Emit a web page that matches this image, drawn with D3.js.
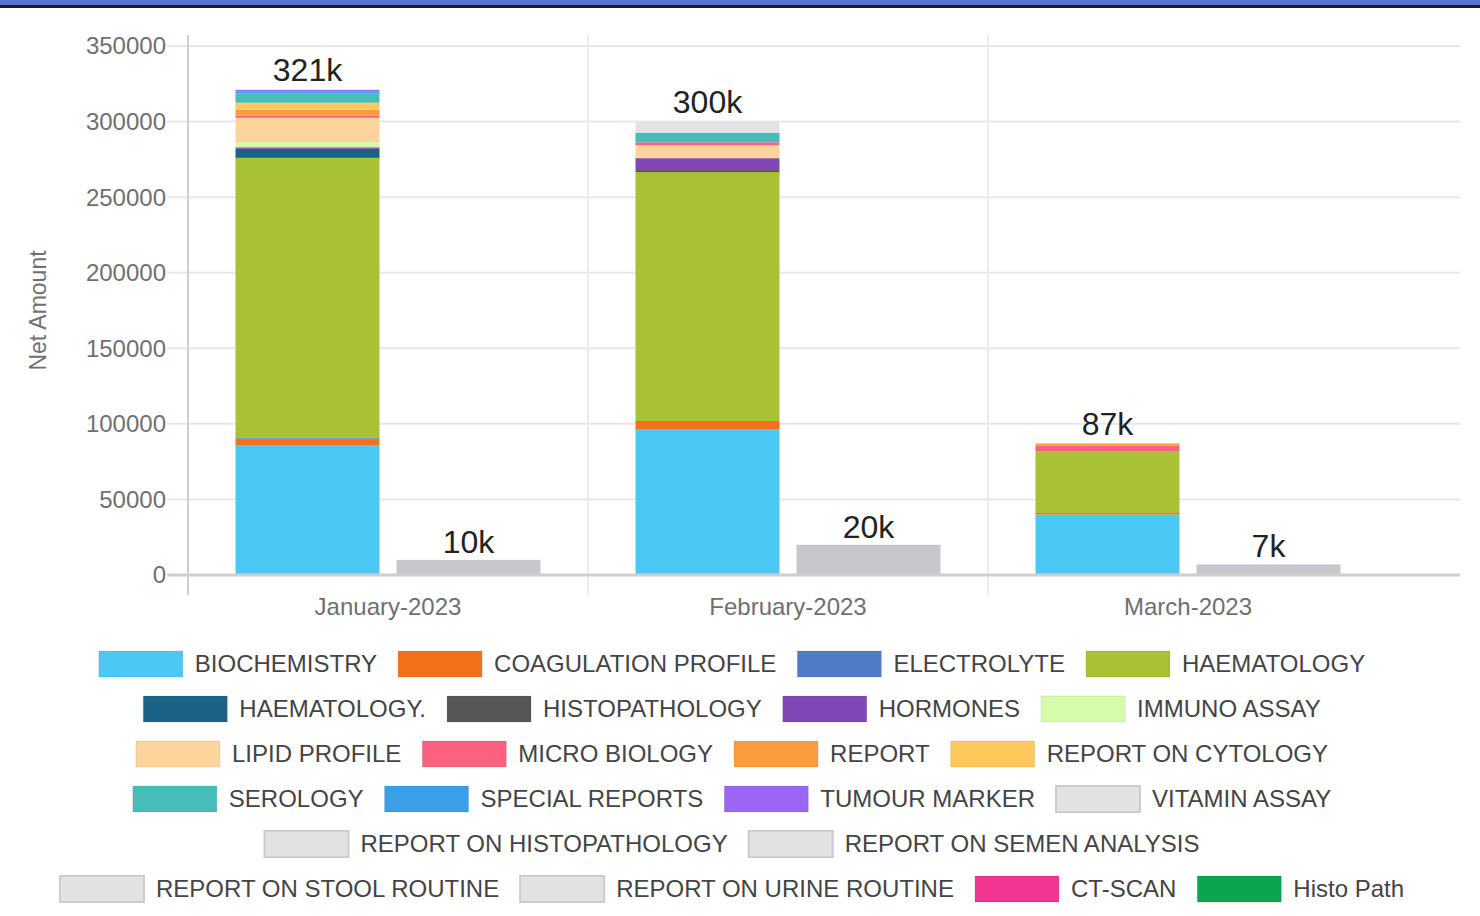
<!DOCTYPE html>
<html>
<head>
<meta charset="utf-8">
<script src="https://cdn.jsdelivr.net/npm/d3@7"></script>
<style>
  html, body { margin: 0; padding: 0; background: #fff; }
  svg { display: block; font-family: 'Liberation Sans', Arial, sans-serif; }
</style>
</head>
<body>
<svg id="chart" width="1480" height="916"></svg>
<script>
// months on the x axis
const months = ['January-2023', 'February-2023', 'March-2023'];

// departments (legend order = stack order, bottom to top)
const departments = [
  'BIOCHEMISTRY', 'COAGULATION PROFILE', 'ELECTROLYTE', 'HAEMATOLOGY',
  'HAEMATOLOGY.', 'HISTOPATHOLOGY', 'HORMONES', 'IMMUNO ASSAY',
  'LIPID PROFILE', 'MICRO BIOLOGY', 'REPORT', 'REPORT ON CYTOLOGY',
  'SEROLOGY', 'SPECIAL REPORTS', 'TUMOUR MARKER', 'VITAMIN ASSAY',
  'REPORT ON HISTOPATHOLOGY', 'REPORT ON SEMEN ANALYSIS',
  'REPORT ON STOOL ROUTINE', 'REPORT ON URINE ROUTINE', 'CT-SCAN', 'Histo Path'
];

const deptColors = [
  '#4cc8f4', '#f4701b', '#4f7bc6', '#a9c135',
  '#1b6386', '#545658', '#8147b7', '#d5fbab',
  '#fdd49b', '#fc6181', '#fd9b3d', '#fdc95b',
  '#46bdb8', '#3a9fe6', '#9a66f4', '#e2e2e2',
  '#e2e2e2', '#e2e2e2', '#e2e2e2', '#e2e2e2', '#f33592', '#0ba54f'
];

// net amount per department, one value per month
const netJan = [86000, 3500, 1000, 185500, 6000, 0, 1000, 3500, 16000, 1500, 4000, 4500, 6000, 1500, 1000, 0, 0, 0, 0, 0, 0, 0];
const netFeb = [96600, 5300, 0, 164700, 0, 1300, 7900, 0, 8500, 2000, 0, 0, 6400, 0, 0, 7000, 0, 0, 0, 0, 0, 0];
const netMar = [40000, 1000, 0, 41000, 0, 0, 0, 0, 0, 3500, 1500, 0, 0, 0, 0, 0, 0, 0, 0, 0, 0, 0];

// second (grey) stack per month
const otherAmount = [10000, 20000, 7000];
const otherColor = '#c6c8cc';

const yTicks = [0, 50000, 100000, 150000, 200000, 250000, 300000, 350000];

const svg = d3.select('#chart');
const W = 1480, H = 916;

// top frame
svg.append('rect').attr('x', 0).attr('y', 0).attr('width', W).attr('height', 5).attr('fill', '#5677c9');
svg.append('rect').attr('x', 0).attr('y', 5).attr('width', W).attr('height', 3).attr('fill', '#1c1f2b');

const plotLeft = 188, plotRight = 1460, plotTop = 46, plotBottom = 575;

const x = d3.scaleBand().domain(months).range([plotLeft, plotLeft + 1200]);
const xSub = d3.scaleBand().domain(['main', 'other']).range([0, x.bandwidth()])
  .paddingInner(0.1056).paddingOuter(0.295);
const y = d3.scaleLinear().domain([0, 350000]).range([plotBottom, plotTop]);

// horizontal grid
svg.append('g').selectAll('line').data(yTicks.slice(1)).join('line')
  .attr('x1', 167).attr('x2', plotRight)
  .attr('y1', d => y(d)).attr('y2', d => y(d))
  .attr('stroke', '#e8e8e8').attr('stroke-width', 2);

// vertical separators between months
svg.append('g').selectAll('line').data(months.slice(1)).join('line')
  .attr('x1', d => x(d)).attr('x2', d => x(d))
  .attr('y1', 35).attr('y2', 595)
  .attr('stroke', '#ececec').attr('stroke-width', 2);

// y axis line
svg.append('line').attr('x1', plotLeft).attr('x2', plotLeft).attr('y1', 35).attr('y2', 595)
  .attr('stroke', '#cfcfcf').attr('stroke-width', 2);

// y tick labels
svg.append('g').selectAll('text').data(yTicks).join('text')
  .attr('x', 166).attr('y', d => y(d)).attr('dy', '0.35em')
  .attr('text-anchor', 'end').attr('font-size', 24).attr('fill', '#6f6f6f')
  .text(d => d);

svg.append('text')
  .attr('transform', `translate(46,${(plotTop + plotBottom) / 2}) rotate(-90)`)
  .attr('text-anchor', 'middle').attr('font-size', 23).attr('fill', '#6f6f6f')
  .text('Net Amount');

// stacked bars
const monthly = [netJan, netFeb, netMar];
const rows = months.map((m, i) => {
  const r = { month: m };
  departments.forEach((d, j) => { r[d] = monthly[i][j]; });
  return r;
});
const series = d3.stack().keys(departments)(rows);

const barG = svg.append('g');
series.forEach((s, k) => {
  barG.append('g').attr('fill', deptColors[k])
    .selectAll('rect').data(s).join('rect')
    .attr('x', d => x(d.data.month) + xSub('main'))
    .attr('width', xSub.bandwidth())
    .attr('y', d => y(d[1]))
    .attr('height', d => y(d[0]) - y(d[1]));
});

// grey bars
barG.append('g').attr('fill', otherColor)
  .selectAll('rect').data(otherAmount).join('rect')
  .attr('x', (d, i) => x(months[i]) + xSub('other'))
  .attr('width', xSub.bandwidth())
  .attr('y', d => y(d))
  .attr('height', d => plotBottom - y(d));

// x baseline
svg.append('line').attr('x1', 167).attr('x2', plotRight).attr('y1', plotBottom).attr('y2', plotBottom)
  .attr('stroke', '#cfcfcf').attr('stroke-width', 3);

// totals
const fmtK = v => Math.round(v / 1000) + 'k';
const totals = monthly.map(a => d3.sum(a));
svg.append('g').selectAll('text').data(totals).join('text')
  .attr('x', (d, i) => x(months[i]) + xSub('main') + xSub.bandwidth() / 2)
  .attr('y', d => y(d) - 9)
  .attr('text-anchor', 'middle').attr('font-size', 32).attr('fill', '#222')
  .text(fmtK);
svg.append('g').selectAll('text').data(otherAmount).join('text')
  .attr('x', (d, i) => x(months[i]) + xSub('other') + xSub.bandwidth() / 2)
  .attr('y', d => y(d) - 7)
  .attr('text-anchor', 'middle').attr('font-size', 32).attr('fill', '#222')
  .text(fmtK);

// x labels
svg.append('g').selectAll('text').data(months).join('text')
  .attr('x', d => x(d) + x.bandwidth() / 2).attr('y', 607).attr('dy', '0.35em')
  .attr('text-anchor', 'middle').attr('font-size', 24).attr('fill', '#6f6f6f')
  .text(d => d);

// legend — greedy wrap, rows centred
const swW = 84, swH = 26, swGap = 12, itemGap = 21, maxRow = 1370, legendCx = 732;
const legend = svg.append('g');
const items = departments.map((name, i) => {
  const g = legend.append('g');
  g.append('rect').attr('width', swW).attr('height', swH).attr('y', -swH / 2)
    .attr('fill', deptColors[i])
    .attr('stroke', deptColors[i] === '#e2e2e2' ? '#cdcdcd' : 'rgba(0,0,0,0.08)')
    .attr('stroke-width', deptColors[i] === '#e2e2e2' ? 2 : 1);
  const t = g.append('text').attr('x', swW + swGap).attr('dy', '0.35em')
    .attr('font-size', 24).attr('fill', '#444').text(name);
  return { g, w: swW + swGap + t.node().getComputedTextLength() };
});
const legendRows = [[]];
let rowW = 0;
items.forEach(it => {
  const add = (legendRows[legendRows.length - 1].length ? itemGap : 0) + it.w;
  if (rowW + add > maxRow) { legendRows.push([it]); rowW = it.w; }
  else { legendRows[legendRows.length - 1].push(it); rowW += add; }
});
legendRows.forEach((row, r) => {
  const total = d3.sum(row, d => d.w) + itemGap * (row.length - 1);
  let cx = legendCx - total / 2;
  row.forEach(it => {
    it.g.attr('transform', `translate(${cx},${664 + r * 45})`);
    cx += it.w + itemGap;
  });
});
</script>
</body>
</html>
